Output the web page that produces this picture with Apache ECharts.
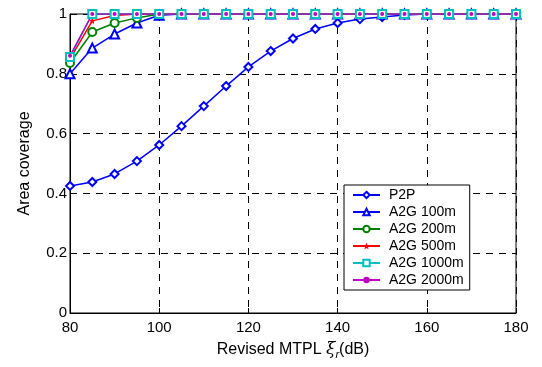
<!DOCTYPE html>
<html>
<head>
<meta charset="utf-8">
<script src="https://cdn.jsdelivr.net/npm/echarts@6/dist/echarts.min.js"></script>
<style>
html, body { margin: 0; padding: 0; background: #fff; }
#chart { width: 542px; height: 367px; }
</style>
</head>
<body>
<div id="chart"></div>
<script>
// x positions (dB)
var xs = [80, 85, 90, 95, 100, 105, 110, 115, 120, 125, 130, 135, 140, 145, 150, 155, 160, 165, 170, 175, 180]

var p2p = [0.425, 0.438, 0.465, 0.508, 0.562, 0.625, 0.692, 0.759, 0.823, 0.876, 0.918, 0.95, 0.97, 0.983, 0.99, 0.997, 1, 1, 1, 1, 1]
var a2g100 = [0.80, 0.886, 0.933, 0.97, 0.996, 1, 1, 1, 1, 1, 1, 1, 1, 1, 1, 1, 1, 1, 1, 1, 1]
var a2g200 = [0.836, 0.94, 0.97, 0.987, 1, 1, 1, 1, 1, 1, 1, 1, 1, 1, 1, 1, 1, 1, 1, 1, 1]
var a2g500 = [0.85, 0.977, 0.995, 1, 1, 1, 1, 1, 1, 1, 1, 1, 1, 1, 1, 1, 1, 1, 1, 1, 1]
var a2g1000 = [0.856, 1, 1, 1, 1, 1, 1, 1, 1, 1, 1, 1, 1, 1, 1, 1, 1, 1, 1, 1, 1]
var a2g2000 = [0.86, 1, 1, 1, 1, 1, 1, 1, 1, 1, 1, 1, 1, 1, 1, 1, 1, 1, 1, 1, 1]

var names = ['P2P', 'A2G 100m', 'A2G 200m', 'A2G 500m', 'A2G 1000m', 'A2G 2000m']

function pairs (ys) {
  return xs.map(function (x, i) { return [x, ys[i]] })
}

var starPath = 'path://M0,-10L2.9,-4L9.5,-3.1L4.7,1.5L5.9,8.1L0,5L-5.9,8.1L-4.7,1.5L-9.5,-3.1L-2.9,-4Z'

function line (name, ys, color, symbol, size) {
  return {
    name: name,
    type: 'line',
    data: pairs(ys),
    symbol: symbol,
    symbolSize: size,
    showAllSymbol: true,
    lineStyle: { color: color, width: 1.5 },
    itemStyle: { color: color, borderWidth: 1.3 },
    emphasis: { disabled: true }
  }
}

var chart = echarts.init(document.getElementById('chart'))
chart.setOption({
  animation: false,
  textStyle: { fontFamily: 'Liberation Sans, Arial, sans-serif' },
  grid: {
    left: 70, right: 26, top: 14, bottom: 54,
    show: true, borderColor: '#000', borderWidth: 1
  },
  legend: {
    data: names,
    orient: 'vertical',
    left: 344, top: 185,
    padding: [3, 6, 3, 8],
    itemGap: 3,
    itemWidth: 27,
    itemHeight: 8,
    backgroundColor: '#fff',
    borderColor: '#000',
    borderWidth: 1,
    textStyle: { fontSize: 14, color: '#000', padding: [0, 0, 0, 4], lineHeight: 14 }
  },
  xAxis: {
    type: 'value',
    min: 80, max: 180, interval: 20,
    name: '{n|Revised MTPL }{g|ξ}{s|r}{n|(dB)}',
    nameLocation: 'middle',
    nameGap: 27,
    nameTextStyle: {
      rich: {
        n: { fontSize: 16, color: '#000' },
        g: { fontSize: 17, color: '#000', fontStyle: 'italic', fontFamily: 'DejaVu Serif' },
        s: { fontSize: 11, color: '#000', fontStyle: 'italic', verticalAlign: 'bottom', padding: [9, 0, 0, 0] }
      }
    },
    axisLine: { lineStyle: { color: '#000' } },
    axisTick: { inside: true, length: 5, lineStyle: { color: '#000' } },
    axisLabel: { color: '#000', fontSize: 15, margin: 7 },
    splitLine: { show: true, lineStyle: { color: '#000', type: [7, 6], width: 1 } }
  },
  yAxis: {
    type: 'value',
    min: 0, max: 1, interval: 0.2,
    name: 'Area coverage',
    nameLocation: 'middle',
    nameGap: 37,
    nameTextStyle: { fontSize: 16, color: '#000' },
    axisLine: { show: true, lineStyle: { color: '#000' } },
    axisTick: { show: true, inside: true, length: 5, lineStyle: { color: '#000' } },
    axisLabel: {
      color: '#000', fontSize: 15, margin: 3,
      formatter: function (v) { return (v === 0 || v === 1) ? String(v) : v.toFixed(1) }
    },
    splitLine: { show: true, lineStyle: { color: '#000', type: [7, 6], width: 1 } }
  },
  series: [
    line(names[0], p2p, '#0000ff', 'emptyDiamond', 8),
    line(names[1], a2g100, '#0000ff', 'emptyTriangle', 9),
    line(names[2], a2g200, '#008000', 'emptyCircle', 8),
    line(names[3], a2g500, '#ff0000', starPath, 6),
    line(names[4], a2g1000, '#00bfbf', 'emptyRect', 8),
    line(names[5], a2g2000, '#bf00bf', 'circle', 4)
  ]
})
</script>
</body>
</html>
